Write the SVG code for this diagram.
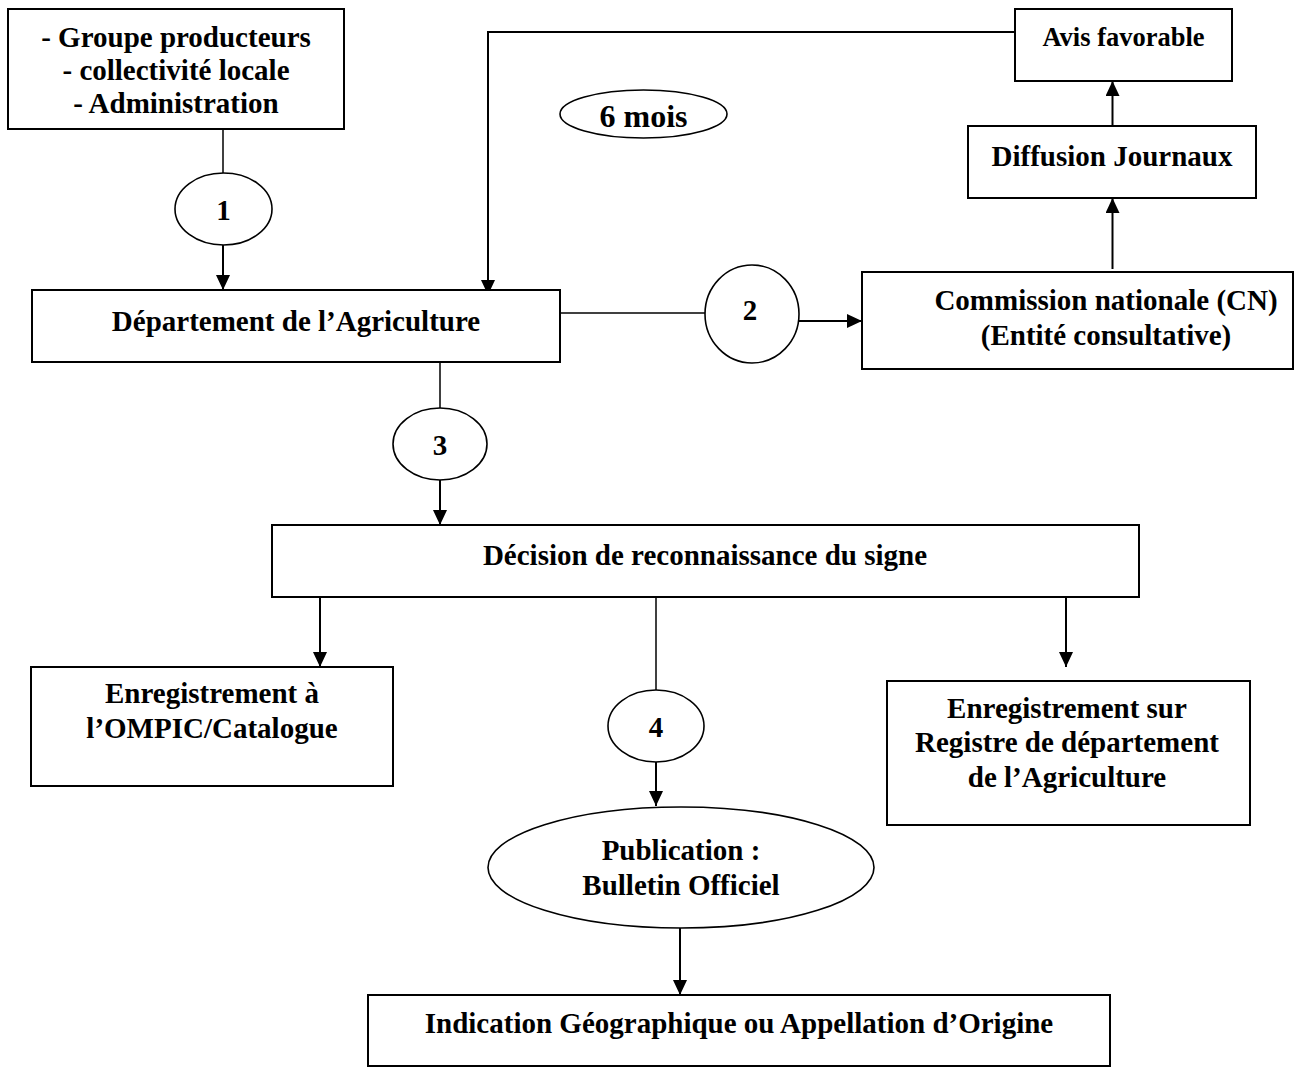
<svg xmlns="http://www.w3.org/2000/svg" width="1303" height="1068" viewBox="0 0 1303 1068">
<style>
  .box{fill:#fff;stroke:#000;stroke-width:2}
  .ell{fill:#fff;stroke:#000;stroke-width:1.6}
  .ln{fill:none;stroke:#000;stroke-width:1.5}
  .ar{fill:none;stroke:#000;stroke-width:2;marker-end:url(#ah)}
  text{font-family:"Liberation Serif","Times New Roman",serif;font-weight:bold;font-size:29px;fill:#000;text-anchor:middle}
</style>
<defs>
  <marker id="ah" markerUnits="userSpaceOnUse" markerWidth="16" markerHeight="16" refX="15" refY="7" orient="auto">
    <path d="M0,0 L15,7 L0,14 z" fill="#000"/>
  </marker>
</defs>
<rect width="1303" height="1068" fill="#fff"/>
<g id="connectors">
  <line class="ln" x1="223" y1="129" x2="223" y2="173"/>
  <line class="ar" x1="223" y1="245" x2="223" y2="290"/>
  <polyline class="ar" points="1015,32 488,32 488,295"/>
  <line class="ar" x1="1112.5" y1="126" x2="1112.5" y2="81"/>
  <line class="ar" x1="1112.5" y1="269" x2="1112.5" y2="198"/>
  <line class="ln" x1="560" y1="313" x2="705" y2="313"/>
  <line class="ar" x1="790" y1="321" x2="862" y2="321"/>
  <line class="ln" x1="440" y1="362" x2="440" y2="408"/>
  <line class="ar" x1="440" y1="480" x2="440" y2="525"/>
  <line class="ar" x1="320" y1="597" x2="320" y2="667"/>
  <line class="ln" x1="656" y1="597" x2="656" y2="690"/>
  <line class="ar" x1="656" y1="762" x2="656" y2="806"/>
  <line class="ar" x1="1066" y1="597" x2="1066" y2="667"/>
  <line class="ar" x1="680" y1="928" x2="680" y2="995"/>
</g>
<g id="n-demandeurs">
  <rect class="box" x="8" y="9" width="336" height="120"/>
  <text x="176" y="47">- Groupe producteurs</text>
  <text x="176" y="80">- collectivité locale</text>
  <text x="176" y="113">- Administration</text>
</g>
<g id="n-step1">
  <ellipse class="ell" cx="223.5" cy="209" rx="48.5" ry="36"/>
  <text x="223.5" y="220">1</text>
</g>
<g id="n-departement">
  <rect class="box" x="32" y="290" width="528" height="72"/>
  <text x="296" y="331">Département de l’Agriculture</text>
</g>
<g id="n-avis">
  <rect class="box" x="1015" y="9" width="217" height="72"/>
  <text x="1123.5" y="46" style="font-size:26.5px">Avis favorable</text>
</g>
<g id="n-6mois">
  <ellipse class="ell" cx="643.5" cy="114" rx="83.5" ry="24"/>
  <text x="643.5" y="127" style="font-size:32px">6 mois</text>
</g>
<g id="n-diffusion">
  <rect class="box" x="968" y="126" width="288" height="72"/>
  <text x="1112" y="166">Diffusion Journaux</text>
</g>
<g id="n-step2">
  <ellipse class="ell" cx="752" cy="314" rx="47" ry="49"/>
  <text x="750" y="320">2</text>
</g>
<g id="n-commission">
  <rect class="box" x="862" y="272" width="431" height="97"/>
  <text x="1106" y="310">Commission nationale (CN)</text>
  <text x="1106" y="345">(Entité consultative)</text>
</g>
<g id="n-step3">
  <ellipse class="ell" cx="440" cy="444" rx="47" ry="36"/>
  <text x="440" y="455">3</text>
</g>
<g id="n-decision">
  <rect class="box" x="272" y="525" width="867" height="72"/>
  <text x="705" y="565">Décision de reconnaissance du signe</text>
</g>
<g id="n-ompic">
  <rect class="box" x="31" y="667" width="362" height="119"/>
  <text x="212" y="703">Enregistrement à</text>
  <text x="212" y="738">l’OMPIC/Catalogue</text>
</g>
<g id="n-step4">
  <ellipse class="ell" cx="656" cy="726" rx="48" ry="36"/>
  <text x="656" y="737">4</text>
</g>
<g id="n-registre">
  <rect class="box" x="887" y="681" width="363" height="144"/>
  <text x="1067" y="718">Enregistrement sur</text>
  <text x="1067" y="752">Registre de département</text>
  <text x="1067" y="787">de l’Agriculture</text>
</g>
<g id="n-publication">
  <ellipse class="ell" cx="681" cy="867.5" rx="193" ry="60.5"/>
  <text x="681" y="860">Publication :</text>
  <text x="681" y="895">Bulletin Officiel</text>
</g>
<g id="n-indication">
  <rect class="box" x="368" y="995" width="742" height="71"/>
  <text x="739" y="1033">Indication Géographique ou Appellation d’Origine</text>
</g>
</svg>
